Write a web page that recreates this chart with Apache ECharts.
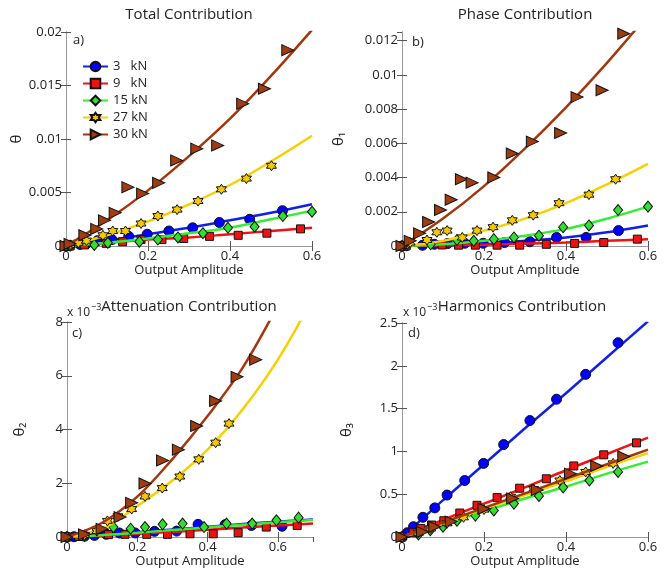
<!DOCTYPE html>
<html><head><meta charset="utf-8">
<script src="https://cdn.jsdelivr.net/npm/echarts@6/dist/echarts.min.js"></script>
<style>html,body{margin:0;padding:0;background:#fff}#c{width:667px;height:573px}</style>
</head><body><div id="c"></div><script>
// ---------- data ----------
const loads = ['3   kN', '9   kN', '15 kN', '27 kN', '30 kN'];
const panelTitles = ['Total Contribution', 'Phase Contribution', 'Attenuation Contribution', 'Harmonics Contribution'];
const panelTags = ['a)', 'b)', 'c)', 'd)'];
const yNames = ['θ', 'θ₁', 'θ₂', 'θ₃'];
const xName = 'Output Amplitude';
const exponentText = '−3';

// fitted-curve sample positions
const fitXab = [0, 0.1, 0.2, 0.3, 0.4, 0.5, 0.6];
const fitXc = [0, 0.1, 0.2, 0.3, 0.4, 0.5, 0.6, 0.7];
const fitXd = [0, 0.1, 0.2, 0.3, 0.4, 0.5, 0.6];

// a) Total contribution
const a3 = [[0,0],[0.01,0.00005],[0.034,0.00015],[0.051,0.00025],[0.077,0.0005],[0.112,0.0006],[0.153,0.0009],[0.198,0.0011],[0.251,0.0014],[0.309,0.0017],[0.374,0.0022],[0.448,0.0025],[0.528,0.0033]];
const a9 = [[0,0],[0.01,0],[0.045,0.0001],[0.098,0.00025],[0.138,0.0004],[0.183,0.0006],[0.234,0.0006],[0.287,0.0007],[0.35,0.0009],[0.42,0.001],[0.49,0.0012],[0.572,0.0016]];
const a15 = [[0,0],[0.01,0.00002],[0.069,0.0001],[0.102,0.0003],[0.179,0.0004],[0.224,0.0006],[0.273,0.0008],[0.334,0.0012],[0.395,0.0017],[0.46,0.0018],[0.529,0.0028],[0.6,0.0032]];
const a27 = [[0,0],[0.01,0.0001],[0.03,0.0003],[0.05,0.0005],[0.09,0.001],[0.114,0.0014],[0.145,0.0014],[0.183,0.0021],[0.224,0.0028],[0.271,0.0034],[0.322,0.0042],[0.379,0.0053],[0.44,0.0063],[0.501,0.0075]];
const a30 = [[0,0],[0.01,0.0002],[0.046,0.001],[0.075,0.0016],[0.094,0.0024],[0.12,0.0031],[0.151,0.0055],[0.187,0.0049],[0.226,0.0059],[0.27,0.008],[0.319,0.0091],[0.37,0.0094],[0.431,0.0133],[0.484,0.0147],[0.541,0.0183]];
const fitA3 = [0,0.0005,0.0011,0.0017,0.0024,0.0031,0.0039];
const fitA9 = [0,0.0003,0.0006,0.0008,0.0011,0.0014,0.0017];
const fitA15 = [0,0.0003,0.0007,0.0012,0.0017,0.0025,0.0033];
const fitA27 = [0,0.001,0.0023,0.0039,0.0057,0.0079,0.0103];
const fitA30 = [0,0.0024,0.0052,0.0084,0.0119,0.0159,0.0202];

// b) Phase contribution
const b3 = [[0,0],[0.01,0.00002],[0.05,0.00004],[0.079,0.0001],[0.111,0.00014],[0.153,0.00016],[0.198,0.00016],[0.25,0.0002],[0.312,0.00025],[0.377,0.0005],[0.449,0.0005],[0.528,0.0009]];
const b9 = [[0,0],[0.01,0],[0.098,0.00006],[0.138,0.00005],[0.179,0.00005],[0.232,0.00005],[0.287,0.00005],[0.352,0.0001],[0.421,0.00015],[0.492,0.0002],[0.574,0.0004]];
const b15 = [[0,0],[0.01,0.00005],[0.07,0.0001],[0.134,0.00035],[0.175,0.0003],[0.224,0.0004],[0.273,0.0005],[0.334,0.0006],[0.393,0.0011],[0.456,0.0012],[0.527,0.0021],[0.6,0.0023]];
const b27 = [[0,0],[0.02,0.0002],[0.061,0.00035],[0.085,0.0008],[0.11,0.0009],[0.147,0.0005],[0.183,0.0009],[0.222,0.0011],[0.269,0.0015],[0.32,0.0018],[0.383,0.0025],[0.456,0.003],[0.521,0.0039]];
const b30 = [[0,0],[0.02,0.0003],[0.043,0.00074],[0.065,0.0014],[0.094,0.0021],[0.12,0.0027],[0.145,0.0039],[0.171,0.0037],[0.224,0.004],[0.269,0.0054],[0.318,0.0061],[0.387,0.0066],[0.427,0.0087],[0.488,0.0091],[0.541,0.0124]];
const fitB3 = [0,0.00003,0.0001,0.0003,0.0005,0.0008,0.0012];
const fitB9 = [0,0.00003,0.00008,0.00014,0.0002,0.0003,0.0004];
const fitB15 = [0,0.0001,0.0003,0.0006,0.001,0.0016,0.0023];
const fitB27 = [0,0.0003,0.0009,0.0016,0.0025,0.0036,0.0048];
const fitB30 = [0,0.0016,0.0035,0.0057,0.0081,0.0107,0.0135];

// c) Attenuation contribution (x 10^-3)
const c3 = [[0,0],[0.02,0.01],[0.05,0.03],[0.078,0.06],[0.112,0.1],[0.149,0.15],[0.194,0.15],[0.249,0.21],[0.312,0.22],[0.373,0.47],[0.45,0.46],[0.525,0.43],[0.612,0.4]];
const c9 = [[0,0],[0.033,0.02],[0.118,0.09],[0.165,0.1],[0.227,0.1],[0.286,0.1],[0.35,0.12],[0.416,0.12],[0.487,0.16],[0.567,0.37],[0.655,0.43]];
const c15 = [[0,0],[0.05,0.05],[0.132,0.37],[0.181,0.31],[0.222,0.37],[0.272,0.47],[0.329,0.5],[0.39,0.37],[0.454,0.5],[0.527,0.5],[0.596,0.62],[0.659,0.72]];
const c27 = [[0,0],[0.05,0.08],[0.085,0.22],[0.115,0.6],[0.145,0.77],[0.184,1.04],[0.222,1.51],[0.271,1.82],[0.321,2.25],[0.375,2.89],[0.423,3.51],[0.461,4.22]];
const c30 = [[0,0],[0.05,0.1],[0.1,0.3],[0.151,0.74],[0.184,1.27],[0.222,1.99],[0.272,2.85],[0.317,3.25],[0.369,4.13],[0.423,5.06],[0.484,5.96],[0.537,6.6]];
const fitC3 = [0,0.08,0.18,0.28,0.38,0.48,0.57,0.65];
const fitC9 = [0,0.05,0.12,0.19,0.27,0.35,0.43,0.5];
const fitC15 = [0,0.07,0.16,0.26,0.36,0.46,0.55,0.63];
const fitC27 = [0,0.3,1.15,2.1,3.25,4.75,6.6,8.9];
const fitC30 = [0,0.53,1.5,2.9,4.5,6.3,8.6,11];

// d) Harmonics contribution (x 10^-3)
const d3 = [[0,0],[0.013,0.05],[0.028,0.12],[0.051,0.23],[0.08,0.34],[0.11,0.49],[0.153,0.66],[0.199,0.86],[0.248,1.08],[0.312,1.36],[0.377,1.61],[0.448,1.9],[0.527,2.27]];
const d9 = [[0,0],[0.027,0.05],[0.046,0.1],[0.072,0.14],[0.102,0.19],[0.141,0.28],[0.183,0.37],[0.232,0.46],[0.287,0.57],[0.352,0.68],[0.419,0.83],[0.492,0.96],[0.572,1.1]];
const d15 = [[0,0],[0.04,0.03],[0.069,0.08],[0.1,0.12],[0.134,0.19],[0.179,0.25],[0.224,0.31],[0.273,0.39],[0.334,0.48],[0.393,0.58],[0.457,0.66],[0.527,0.76],[0.601,0.88]];
const d27 = [[0,0],[0.04,0.05],[0.07,0.1],[0.11,0.16],[0.15,0.23],[0.2,0.32],[0.265,0.47],[0.321,0.56],[0.385,0.66],[0.448,0.76],[0.515,0.86]];
const d30 = [[0,0],[0.05,0.06],[0.08,0.12],[0.12,0.18],[0.2,0.33],[0.27,0.45],[0.33,0.55],[0.411,0.74],[0.475,0.83],[0.541,0.94]];
const fitD3 = [0,0.43,0.85,1.27,1.68,2.1,2.52];
const fitD9 = [0,0.2,0.39,0.58,0.78,0.97,1.16];
const fitD15 = [0,0.15,0.3,0.45,0.59,0.74,0.88];
const fitD27 = [0,0.16,0.33,0.49,0.65,0.82,0.98];
const fitD30 = [0,0.17,0.34,0.51,0.68,0.85,1.02];

// ---------- styling / layout ----------
const FONT = 'Open Sans';
const lineColors = ['#1020e8', '#f21010', '#33ee33', '#f7d000', '#a4360e'];
const markColors = ['#0000ff', '#ee1111', '#33dd33', '#f5c800', '#a03c10'];
const TRI = 'path://M0,0L10,5L0,10Z';
const STAR = 'path://M5,0L6.443,2.5L9.33,2.5L7.887,5L9.33,7.5L6.443,7.5L5,10L3.557,7.5L0.67,7.5L2.113,5L0.67,2.5L3.557,2.5Z';
const symbols = ['circle', 'rect', 'diamond', STAR, TRI];
const symSizes = [10, 8, [9, 11], 10, [12, 11]];

const grids = [
  {left: 66, top: 32, width: 246, height: 214},
  {left: 402, top: 32, width: 246, height: 214},
  {left: 67, top: 322, width: 246, height: 215},
  {left: 402, top: 323, width: 246, height: 214}
];
const xRanges = [[0, 0.6, 0.2], [0, 0.6, 0.2], [0, 0.7, 0.2], [0, 0.6, 0.2]];
const yRanges = [[0, 0.02, 0.005], [0, 0.0125, 0.002], [0, 8, 2], [0, 2.5, 0.5]];
const yNameGaps = [42, 56, 40, 48];

const points = [[a3,a9,a15,a27,a30],[b3,b9,b15,b27,b30],[c3,c9,c15,c27,c30],[d3,d9,d15,d27,d30]];
const fits = [[fitA3,fitA9,fitA15,fitA27,fitA30],[fitB3,fitB9,fitB15,fitB27,fitB30],[fitC3,fitC9,fitC15,fitC27,fitC30],[fitD3,fitD9,fitD15,fitD27,fitD30]];
const fitXs = [fitXab, fitXab, fitXc, fitXd];

const AX = '#999';
const xAxes = [], yAxes = [], series = [];
grids.forEach((g, i) => {
  const [x0, x1, xi] = xRanges[i];
  const [y0, y1, yi] = yRanges[i];
  const common = {min: x0, max: x1, interval: xi, splitLine: {show: false},
    axisLine: {show: true, lineStyle: {color: AX, width: 1}},
    axisTick: {show: true, inside: true, length: 5, lineStyle: {color: '#555'}}};
  xAxes.push(Object.assign({}, common, {type: 'value', gridIndex: i, position: 'bottom',
    name: xName, nameLocation: 'middle', nameGap: 17,
    nameTextStyle: {fontFamily: FONT, fontSize: 13, color: '#222'},
    axisLabel: {fontFamily: FONT, fontSize: 13, color: '#222', margin: 4, showMaxLabel: i === 2 ? false : true}}));
  xAxes.push(Object.assign({}, common, {type: 'value', gridIndex: i, position: 'top', axisLabel: {show: false}}));
  const ycommon = {min: y0, max: y1, interval: yi, splitLine: {show: false},
    axisLine: {show: true, lineStyle: {color: AX, width: 1}},
    axisTick: {show: true, inside: true, length: 5, lineStyle: {color: '#555'}}};
  yAxes.push(Object.assign({}, ycommon, {type: 'value', gridIndex: i, position: 'left',
    name: yNames[i], nameLocation: 'middle', nameGap: yNameGaps[i], nameRotate: 90,
    nameTextStyle: {fontFamily: FONT, fontSize: 15, color: '#222'},
    axisLabel: {fontFamily: FONT, fontSize: 13, color: '#222', margin: 4, showMaxLabel: i === 1 ? false : true}}));
  yAxes.push(Object.assign({}, ycommon, {type: 'value', gridIndex: i, position: 'right', axisLabel: {show: false}}));

  for (let k = 0; k < 5; k++) {
    series.push({
      type: 'line', name: i === 0 ? loads[k] : ('fit' + i + '-' + k),
      xAxisIndex: 2 * i, yAxisIndex: 2 * i,
      data: fits[i][k].map((v, j) => [fitXs[i][j], v]),
      smooth: 0.35, showSymbol: false, symbol: symbols[k], clip: true,
      lineStyle: {color: lineColors[k], width: 2.5},
      itemStyle: {color: markColors[k], borderColor: '#111', borderWidth: 1},
      silent: true, z: 2 + k * 2
    });
    series.push({
      type: 'scatter', name: 'pts' + i + '-' + k,
      xAxisIndex: 2 * i, yAxisIndex: 2 * i,
      data: points[i][k], symbol: symbols[k], symbolSize: symSizes[k],
      itemStyle: {color: markColors[k], borderColor: '#111', borderWidth: 1, opacity: 1},
      silent: true, z: 3 + k * 2
    });
  }
});

const graphic = [];
const titleX = [189, 525, 189, 522];
const titleY = [15, 15, 307, 307];
panelTitles.forEach((t, i) => {
  graphic.push({type: 'text', x: titleX[i], y: titleY[i],
    style: {text: t, font: '15px ' + FONT, fill: '#222', textAlign: 'center', textVerticalAlign: 'middle'}});
});
const tagPos = [[73, 40], [412, 42], [72, 333], [408, 333]];
panelTags.forEach((t, i) => {
  graphic.push({type: 'text', x: tagPos[i][0], y: tagPos[i][1],
    style: {text: t, font: '13px ' + FONT, fill: '#222', textAlign: 'left', textVerticalAlign: 'middle'}});
});
[[67, 313], [403, 313]].forEach(p => {
  graphic.push({type: 'text', x: p[0], y: p[1],
    style: {text: 'x 10', font: '12px ' + FONT, fill: '#222', textAlign: 'left', textVerticalAlign: 'middle'}});
  graphic.push({type: 'text', x: p[0] + 24, y: p[1] - 6,
    style: {text: exponentText, font: '9px ' + FONT, fill: '#222', textAlign: 'left', textVerticalAlign: 'middle'}});
});

const chart = echarts.init(document.getElementById('c'), null, {renderer: 'canvas'});
chart.setOption({
  animation: false,
  backgroundColor: '#fff',
  grid: grids,
  xAxis: xAxes,
  yAxis: yAxes,
  legend: {
    data: loads, orient: 'vertical', left: 77, top: 55,
    itemWidth: 25, itemHeight: 12, itemGap: 4, selectedMode: false,
    textStyle: {fontFamily: FONT, fontSize: 13, color: '#222', lineHeight: 12}
  },
  graphic: graphic,
  series: series
});
</script></body></html>
